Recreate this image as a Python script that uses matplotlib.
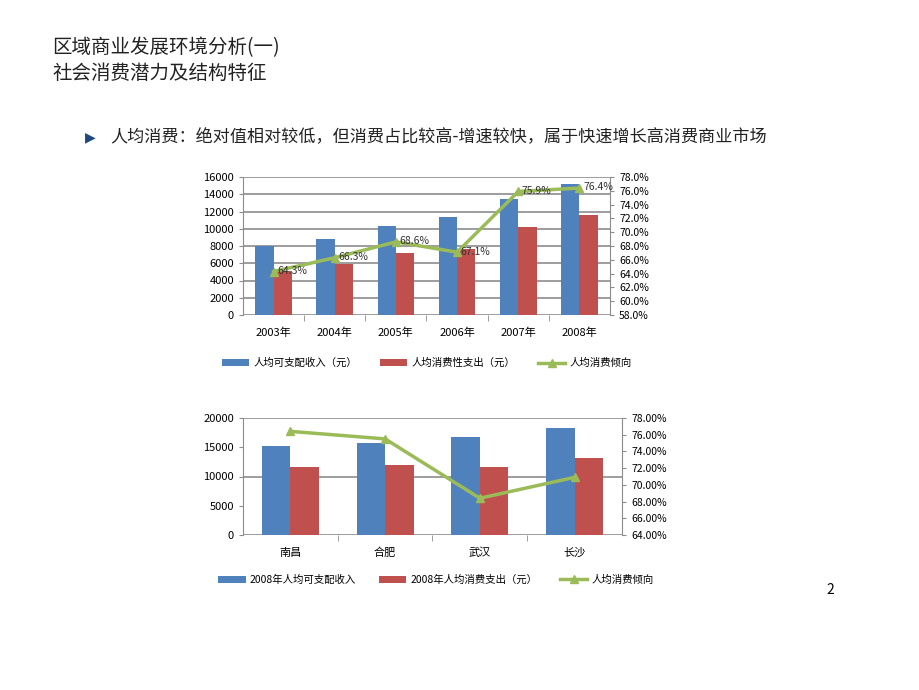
import numpy as np
import matplotlib.pyplot as plt
from matplotlib.ticker import FuncFormatter

plt.rcParams['font.family'] = ['Noto Sans CJK SC', 'DejaVu Sans']

# ---- data: top chart (by year) ----
years = ['2003年', '2004年', '2005年', '2006年', '2007年', '2008年']
income_yr = [7950, 8800, 10300, 11350, 13450, 15200]
spend_yr = [5100, 5900, 7200, 7650, 10200, 11600]
ratio_yr = [64.3, 66.3, 68.6, 67.1, 75.9, 76.4]

# ---- data: bottom chart (by city, 2008) ----
cities = ['南昌', '合肥', '武汉', '长沙']
income_city = [15200, 15700, 16750, 18300]
spend_city = [11600, 11950, 11600, 13150]
ratio_city = [76.4, 75.5, 68.4, 70.9]

BLUE = '#4F81BD'
RED = '#C0504D'
GREEN = '#9BBB59'
W, H = 920, 690


def box(l, t, r, b):
    return [l / W, 1 - b / H, (r - l) / W, (b - t) / H]


def combo(rect, cats, inc, spd, rat, ylim, ystep, rlim, rstep, grid_step,
          rfmt, labels, leg_x, leg_y, data_labels):
    ax = fig.add_axes(rect)
    x = np.arange(len(cats))
    bw = 0.3
    ax.bar(x - bw / 2, inc, bw, color=BLUE, zorder=2, label=labels[0])
    ax.bar(x + bw / 2, spd, bw, color=RED, zorder=2, label=labels[1])
    ax.set_xlim(-0.5, len(cats) - 0.5)
    ax.set_ylim(*ylim)
    ax.set_yticks(np.arange(ylim[0], ylim[1] + 1, ystep))
    for g in np.arange(ylim[0], ylim[1] + 1, grid_step):
        ax.axhline(g, color='#8c8c8c', lw=1.2, zorder=1)
    ax.set_xticks(x)
    ax.set_xticklabels(cats, fontsize=8)
    ax.set_xticks(np.arange(0.5, len(cats) - 0.5), minor=True)
    ax.tick_params(axis='x', which='minor', length=4, color='#8c8c8c')
    ax.tick_params(axis='y', labelsize=8, length=3, color='#8c8c8c')
    ax.tick_params(axis='x', which='major', length=0, pad=9)
    for s in ['top', 'right', 'bottom']:
        ax.spines[s].set_visible(False)
    ax.spines['left'].set_color('#8c8c8c')

    ax2 = ax.twinx()
    ax2.plot(x, rat, color=GREEN, lw=2.5, marker='^', ms=6, zorder=3,
             label=labels[2])
    ax2.set_ylim(*rlim)
    ax2.set_yticks(np.arange(rlim[0], rlim[1] + 0.01, rstep))
    ax2.yaxis.set_major_formatter(FuncFormatter(rfmt))
    ax2.tick_params(axis='y', labelsize=7.5, length=3, color='#8c8c8c')
    for s in ['top', 'left', 'bottom']:
        ax2.spines[s].set_visible(False)
    ax2.spines['right'].set_color('#8c8c8c')
    if data_labels:
        for xi, v in zip(x, rat):
            ax2.text(xi + 0.06, v + 0.1, f'{v:.1f}%', fontsize=7.5,
                     ha='left', va='center', color='#333333', zorder=4)

    h1, l1 = ax.get_legend_handles_labels()
    h2, l2 = ax2.get_legend_handles_labels()
    fig.legend(h1 + h2, l1 + l2, loc='center',
               bbox_to_anchor=(leg_x / W, 1 - leg_y / H),
               ncol=3, frameon=False, fontsize=7.5, handlelength=2.6,
               handletextpad=0.4, columnspacing=2.2)
    return ax, ax2


fig = plt.figure(figsize=(9.2, 6.9), dpi=100)

fig.text(52 / W, 1 - 48 / H, '区域商业发展环境分析(一)', fontsize=14,
         va='center', color='#222222')
fig.text(52 / W, 1 - 73 / H, '社会消费潜力及结构特征', fontsize=14,
         va='center', color='#222222')
fig.text(85 / W, 1 - 137 / H, '▶', fontsize=10, va='center', color='#1F497D',
         family=['DejaVu Sans'])
fig.text(110 / W, 1 - 137 / H,
         '人均消费：绝对值相对较低，但消费占比较高-增速较快，属于快速增长高消费商业市场',
         fontsize=12.3, va='center', color='#222222')

combo(box(243, 177, 610, 315), years, income_yr, spend_yr, ratio_yr,
      (0, 16000), 2000, (58, 78), 2, 2000,
      lambda v, p: f'{v:.1f}%',
      ['人均可支配收入（元）', '人均消费性支出（元）', '人均消费倾向'],
      427, 363, True)

combo(box(243, 418, 622, 535), cities, income_city, spend_city, ratio_city,
      (0, 20000), 5000, (64, 78), 2, 10000,
      lambda v, p: f'{v:.2f}%',
      ['2008年人均可支配收入', '2008年人均消费支出（元）', '人均消费倾向'],
      436, 580, False)

fig.text(830 / W, 1 - 590 / H, '2', fontsize=10, ha='center', va='center')

fig.savefig('out.png', dpi=100, facecolor='white')
